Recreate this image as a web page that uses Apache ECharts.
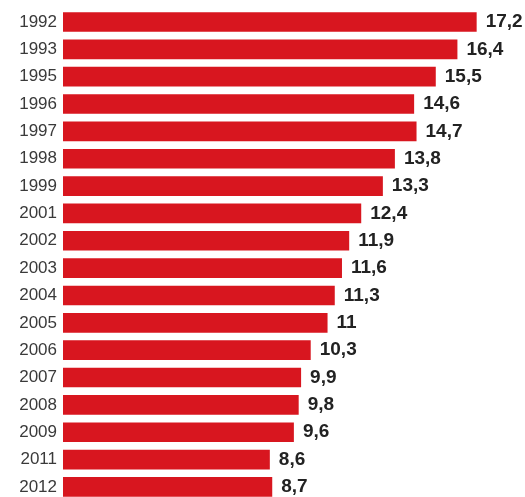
<!DOCTYPE html>
<html>
<head>
<meta charset="utf-8">
<script src="https://cdn.jsdelivr.net/npm/echarts@6/dist/echarts.min.js"></script>
<style>
html,body{margin:0;padding:0;background:#fff;}
#chart{width:525px;height:497px;}
</style>
</head>
<body>
<div id="chart"></div>
<script>
var categories = ['1992','1993','1995','1996','1997','1998','1999','2001','2002','2003','2004','2005','2006','2007','2008','2009','2011','2012'];
var values = [17.2,16.4,15.5,14.6,14.7,13.8,13.3,12.4,11.9,11.6,11.3,11,10.3,9.9,9.8,9.6,8.6,8.7];

var chart = echarts.init(document.getElementById('chart'));
chart.setOption({
  animation: false,
  grid: {left: 63, top: 8.3, width: 432.9, height: 492.3, containLabel: false, outerBoundsMode: 'none'},
  xAxis: {
    type: 'value', min: 0, max: 18,
    show: false
  },
  yAxis: {
    type: 'category', data: categories, inverse: true,
    axisLine: {show: false}, axisTick: {show: false}, splitLine: {show: false},
    axisLabel: {margin: 6, fontSize: 17, color: '#3a3a3a', fontFamily: 'Liberation Sans, Arial, sans-serif'}
  },
  series: [{
    type: 'bar',
    data: values,
    barWidth: '72%',
    itemStyle: {color: '#d8161f'},
    label: {
      show: true, position: 'right', distance: 9,
      fontSize: 19, fontWeight: 'bold', color: '#222',
      fontFamily: 'Liberation Sans, Arial, sans-serif',
      formatter: function(p){ return String(p.value).replace('.', ','); }
    }
  }]
});
</script>
</body>
</html>
